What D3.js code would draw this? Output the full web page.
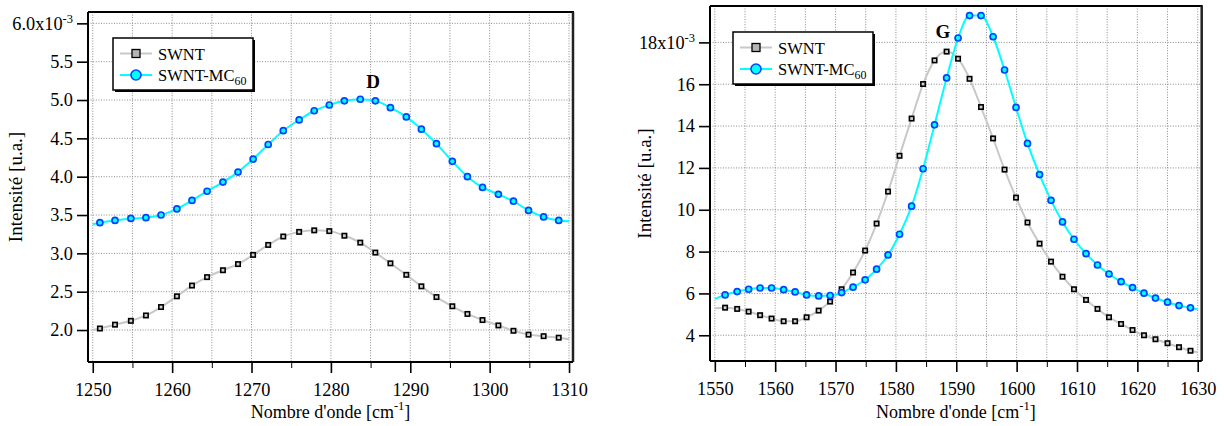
<!DOCTYPE html>
<html><head><meta charset="utf-8">
<script src="https://cdn.jsdelivr.net/npm/d3@7"></script>
<style>
html,body{margin:0;padding:0;background:#fff;}
svg text{font-family:"Liberation Serif","Times New Roman",serif;fill:#000;}
</style></head>
<body>
<svg id="chart" width="1224" height="426"></svg>
<script>
// ---------- Data (intensities in units of 1e-3) ----------
const dWave = [1250.9,1252.8,1254.8,1256.7,1258.6,1260.6,1262.5,1264.4,1266.4,1268.3,1270.2,1272.1,1274.0,1276.0,1277.9,1279.8,1281.7,1283.7,1285.6,1287.5,1289.5,1291.4,1293.3,1295.3,1297.2,1299.1,1301.1,1303.0,1304.9,1306.8,1308.7];
const dSWNT = [2.02,2.07,2.12,2.19,2.30,2.44,2.58,2.69,2.78,2.86,2.98,3.11,3.22,3.28,3.30,3.29,3.23,3.14,3.01,2.87,2.72,2.57,2.43,2.31,2.21,2.13,2.06,1.99,1.94,1.92,1.90];
const dMC60 = [3.40,3.43,3.455,3.465,3.50,3.58,3.69,3.81,3.93,4.06,4.23,4.42,4.60,4.74,4.86,4.935,4.99,5.01,4.99,4.90,4.78,4.62,4.43,4.20,4.00,3.86,3.77,3.68,3.56,3.475,3.43];
// line ends at the frame edges
const dEdgeWave = [1250, 1310];
const dEdgeSWNT = [2.00, 1.88];
const dEdgeMC60 = [3.38, 3.42];

const gWave = [1551.7,1553.7,1555.6,1557.5,1559.4,1561.4,1563.3,1565.2,1567.2,1569.1,1571.0,1572.9,1574.9,1576.8,1578.7,1580.6,1582.6,1584.5,1586.4,1588.4,1590.3,1592.2,1594.1,1596.1,1598.0,1599.9,1601.8,1603.8,1605.7,1607.6,1609.5,1611.5,1613.4,1615.3,1617.3,1619.2,1621.1,1623.0,1625.0,1626.9,1628.8];
const gSWNT = [5.32,5.26,5.13,4.96,4.80,4.67,4.67,4.86,5.18,5.61,6.20,7.00,8.05,9.34,10.87,12.58,14.36,16.01,17.14,17.56,17.22,16.26,14.91,13.41,11.92,10.58,9.39,8.38,7.52,6.80,6.20,5.69,5.26,4.86,4.54,4.25,4.00,3.81,3.62,3.43,3.26];
const gMC60 = [5.93,6.09,6.20,6.26,6.26,6.18,6.07,5.93,5.88,5.90,6.04,6.30,6.65,7.16,7.84,8.83,10.17,11.96,14.06,16.30,18.21,19.28,19.28,18.27,16.68,14.89,13.17,11.68,10.45,9.42,8.59,7.90,7.36,6.93,6.56,6.28,6.01,5.78,5.58,5.42,5.31];
const gEdgeWave = [1550, 1630];
const gEdgeSWNT = [5.29, 3.19];
const gEdgeMC60 = [5.74, 5.24];

const dXTicks = [1250,1260,1270,1280,1290,1300,1310];
const dXMinor = [1255,1265,1275,1285,1295,1305];
const dYTicks = [2.0,2.5,3.0,3.5,4.0,4.5,5.0,5.5,6.0];
const dYLabels = ["2.0","2.5","3.0","3.5","4.0","4.5","5.0","5.5","6.0x10"];
const gXTicks = [1550,1560,1570,1580,1590,1600,1610,1620,1630];
const gXMinor = [1555,1565,1575,1585,1595,1605,1615,1625];
const gYTicks = [4,6,8,10,12,14,16,18];
const gYLabels = ["4","6","8","10","12","14","16","18x10"];

const seriesNames = ["SWNT","SWNT-MC"];
const yTitle = "Intensité [u.a.]";
const xTitle = "Nombre d'onde [cm";

// ---------- Styles ----------
const FONT = "'Liberation Serif','Times New Roman',serif";
const C_SWNT_LINE = "#c8c8c8", C_MC_LINE = "#00ffff", C_MC_EDGE = "#0044ff";

const svg = d3.select("#chart");

function panel(cfg){
  const g = svg.append("g");
  const x = d3.scaleLinear().domain(cfg.xDom).range([cfg.left, cfg.right]);
  const y = d3.scaleLinear().domain(cfg.yDom).range([cfg.bottom, cfg.top]);

  // grid
  const grid = g.append("g").attr("stroke","#8a8a8a").attr("stroke-width",1).attr("stroke-dasharray","1,1.6");
  cfg.xTicks.concat(cfg.xMinor).forEach(v=>{
    grid.append("line").attr("x1",x(v)).attr("x2",x(v)).attr("y1",cfg.top).attr("y2",cfg.bottom);
  });
  cfg.yTicks.forEach(v=>{
    grid.append("line").attr("y1",y(v)).attr("y2",y(v)).attr("x1",cfg.left).attr("x2",cfg.right);
  });

  // lines
  const line = d3.line().x(d=>x(d[0])).y(d=>y(d[1])).curve(d3.curveMonotoneX);
  function pts(wave, vals, ew, ev){
    const p = wave.map((w,i)=>[w, vals[i]]);
    return [[ew[0],ev[0]]].concat(p).concat([[ew[1],ev[1]]]);
  }
  g.append("path").attr("d", line(pts(cfg.wave, cfg.swnt, cfg.edgeWave, cfg.edgeSWNT)))
    .attr("fill","none").attr("stroke",C_SWNT_LINE).attr("stroke-width",2);
  g.append("path").attr("d", line(pts(cfg.wave, cfg.mc, cfg.edgeWave, cfg.edgeMC)))
    .attr("fill","none").attr("stroke",C_MC_LINE).attr("stroke-width",2);

  // markers
  g.append("g").selectAll("rect").data(cfg.wave.map((w,i)=>[w,cfg.swnt[i]])).join("rect")
    .attr("x",d=>x(d[0])-2.2).attr("y",d=>y(d[1])-2.2).attr("width",4.4).attr("height",4.4)
    .attr("fill","#d0d0d0").attr("stroke","#000").attr("stroke-width",1.6);
  g.append("g").selectAll("circle").data(cfg.wave.map((w,i)=>[w,cfg.mc[i]])).join("circle")
    .attr("cx",d=>x(d[0])).attr("cy",d=>y(d[1])).attr("r",3)
    .attr("fill",C_MC_LINE).attr("stroke",C_MC_EDGE).attr("stroke-width",1.7);

  // frame top/right
  g.append("line").attr("x1",cfg.left).attr("x2",cfg.right+1).attr("y1",cfg.top).attr("y2",cfg.top).attr("stroke","#000").attr("stroke-width",2);
  g.append("line").attr("x1",cfg.right).attr("x2",cfg.right).attr("y1",cfg.top).attr("y2",cfg.bottom).attr("stroke","#222").attr("stroke-width",2.5);

  // axes
  const ax = g.append("g").attr("transform",`translate(0,${cfg.bottom})`)
    .call(d3.axisBottom(x).tickValues(cfg.xTicks).tickSize(11).tickSizeOuter(0).tickPadding(10).tickFormat(d3.format("d")));
  g.append("g").attr("transform",`translate(0,${cfg.bottom})`)
    .call(d3.axisBottom(x).tickValues(cfg.xMinor).tickSize(6).tickSizeOuter(0).tickFormat(""))
    .select(".domain").remove();
  const ay = g.append("g").attr("transform",`translate(${cfg.left},0)`)
    .call(d3.axisLeft(y).tickValues(cfg.yTicks).tickSize(11).tickSizeOuter(0).tickPadding(4)
      .tickFormat((d,i)=>cfg.yLabels[i]));
  [ax,ay].forEach(a=>{
    a.attr("font-family",null).attr("font-size",null);
    a.select(".domain").attr("stroke-width",2).attr("stroke","#000");
    a.selectAll(".tick line").attr("stroke-width",1.6).attr("stroke","#000");
    a.selectAll(".tick text").style("font-size","18.3px").style("font-family",FONT);
  });
  ay.select(".domain").attr("d",`M0,${cfg.bottom}V${cfg.top}`);
  ax.select(".domain").attr("d",`M${cfg.left},0H${cfg.right}`);
  ay.selectAll(".tick text").filter((d,i)=>i===cfg.yTicks.length-1)
    .append("tspan").style("font-size","12.5px").attr("dy",-7).text("-3");

  // titles
  svg.append("text").attr("transform",`translate(${cfg.yTitleX},${(cfg.top+cfg.bottom)/2}) rotate(-90)`)
    .attr("text-anchor","middle").style("font-size","19px").style("font-family",FONT).text(yTitle);
  const xt = svg.append("text").attr("x",(cfg.left+cfg.right)/2).attr("y",418)
    .attr("text-anchor","middle").style("font-size","18px").style("font-family",FONT).text(xTitle);
  xt.append("tspan").style("font-size","12.5px").attr("dy",-8).text("-1");
  xt.append("tspan").attr("dy",8).text("]");

  // peak label
  svg.append("text").attr("x",cfg.peakX).attr("y",cfg.peakY).attr("text-anchor","middle")
    .style("font-size","19px").style("font-family",FONT).attr("font-weight","bold").text(cfg.peak);

  // legend
  const L = cfg.legend;
  svg.append("rect").attr("x",L.x+2).attr("y",L.y+2).attr("width",L.w).attr("height",L.h).attr("fill","#000");
  svg.append("rect").attr("x",L.x).attr("y",L.y).attr("width",L.w).attr("height",L.h).attr("fill","#fff").attr("stroke","#000").attr("stroke-width",1.5);
  const r1 = L.y+15.5, r2 = L.y+37;
  svg.append("line").attr("x1",L.x+7).attr("x2",L.x+39).attr("y1",r1).attr("y2",r1).attr("stroke",C_SWNT_LINE).attr("stroke-width",2);
  svg.append("rect").attr("x",L.x+23-4).attr("y",r1-4).attr("width",8).attr("height",8).attr("fill","#b4b4b4").attr("stroke","#000").attr("stroke-width",1.3);
  svg.append("line").attr("x1",L.x+7).attr("x2",L.x+39).attr("y1",r2).attr("y2",r2).attr("stroke",C_MC_LINE).attr("stroke-width",2);
  svg.append("circle").attr("cx",L.x+23).attr("cy",r2).attr("r",5).attr("fill",C_MC_LINE).attr("stroke",C_MC_EDGE).attr("stroke-width",1.6);
  svg.append("text").attr("x",L.x+45).attr("y",r1+6).style("font-size","16.5px").style("font-family",FONT).text(seriesNames[0]);
  const t2 = svg.append("text").attr("x",L.x+45).attr("y",r2+6).style("font-size","16.5px").style("font-family",FONT).text(seriesNames[1]);
  t2.append("tspan").style("font-size","12px").attr("dy",4).text("60");
}

panel({
  left:88, right:573, top:12, bottom:362,
  xDom:[1249.4,1310.5], yDom:[1.583,6.148],
  wave:dWave, swnt:dSWNT, mc:dMC60, edgeWave:dEdgeWave, edgeSWNT:dEdgeSWNT, edgeMC:dEdgeMC60,
  xTicks:dXTicks, xMinor:dXMinor, yTicks:dYTicks, yLabels:dYLabels,
  yTitleX:22, peak:"D", peakX:373, peakY:88,
  legend:{x:113,y:38,w:140,h:52}
});
panel({
  left:710, right:1201.7, top:6, bottom:361,
  xDom:[1549.2,1630.66], yDom:[2.77,19.74],
  wave:gWave, swnt:gSWNT, mc:gMC60, edgeWave:gEdgeWave, edgeSWNT:gEdgeSWNT, edgeMC:gEdgeMC60,
  xTicks:gXTicks, xMinor:gXMinor, yTicks:gYTicks, yLabels:gYLabels,
  yTitleX:651, peak:"G", peakX:943, peakY:38,
  legend:{x:733,y:32,w:140,h:52}
});
</script>
</body></html>
